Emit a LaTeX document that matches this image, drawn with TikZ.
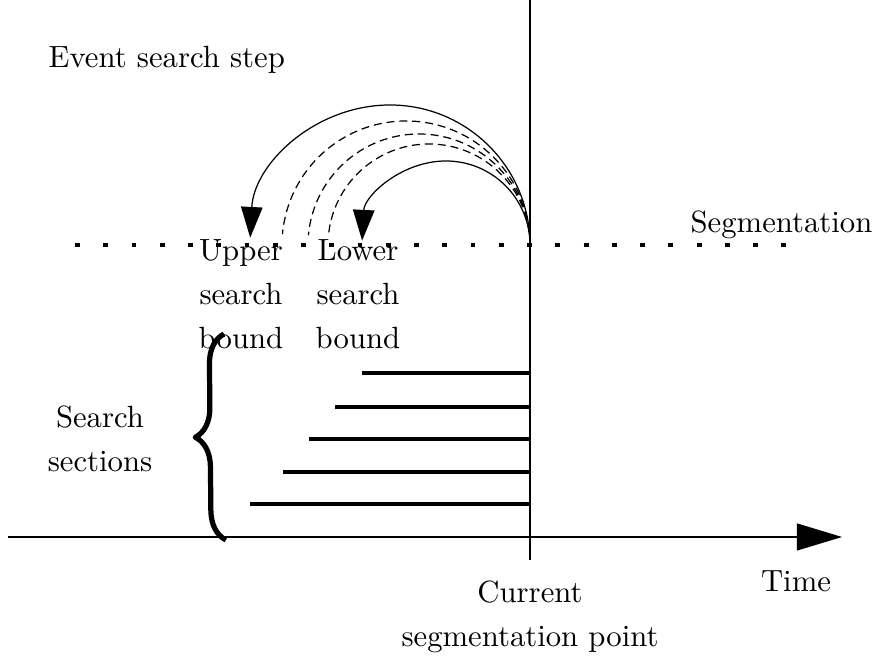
\documentclass[tikz,border=0pt]{standalone}
\usetikzlibrary{arrows.meta,decorations.pathreplacing}
\begin{document}
\begin{tikzpicture}[x=0.01145cm, y=0.01145cm, line join=round,
    txt/.style={font=\fontsize{10}{14.3}\selectfont, align=center, inner sep=0pt, anchor=north},
    bar/.style={line width=1.1pt},
    jump/.style={line width=0.4pt, -{Triangle[length=10pt,width=7pt]}},
    trial/.style={line width=0.4pt, dash pattern=on 2.6pt off 1.6pt}]
  \useasboundingbox (0,0) rectangle (877,-657);
  % labels
  \node[txt, anchor=base west] (ev) at (48,-68) {Event search step};
  \node[txt, anchor=base west] (seg) at (690,-233) {Segmentation};
  \node[txt] (up) at (241,-239) {Upper\\search\\bound};
  \node[txt] (lo) at (358,-239) {Lower\\search\\bound};
  \node[txt] (sec) at (100,-405) {Search\\sections};
  \node[txt, anchor=base] (time) at (796,-592) {Time};
  \node[txt] (curlbl) at (530,-580) {Current\\segmentation point};
  % axes
  \coordinate (v0) at (530,0);
  \coordinate (v1) at (530,-560);
  \coordinate (t0) at (8,-537);
  \coordinate (t1) at (842,-537);
  \draw[line width=0.4pt] (v0) -- (v1);
  \draw[line width=0.4pt, -{Triangle[length=14.7pt,width=8.8pt]}] (t0) -- (t1);
  % segmentation line
  \coordinate (s0) at (75,-245);
  \coordinate (s1) at (792,-245);
  \coordinate (cur) at (530,-245);
  \draw[line width=1.2pt, dash pattern=on 1.6pt off 7.6pt] (s0) -- (s1);
  % search steps
  \draw[jump] (cur) arc[start angle=0, end angle=177, radius=140];
  \draw[trial] (cur) arc[start angle=0, end angle=175, radius=124];
  \draw[trial] (cur) arc[start angle=0, end angle=175, radius=111];
  \draw[trial] (cur) arc[start angle=0, end angle=175, radius=101];
  \draw[jump] (cur) arc[start angle=0, end angle=177, radius=84];
  % sections
  \foreach \l/\y in {362/373, 335/407, 309/439, 283/472, 250/504}
    \draw[bar] (\l,-\y) -- (530,-\y);
  \draw[line width=1.7pt, decorate, decoration={brace, amplitude=0.34cm}]
    (226,-540) -- (224,-334);
\end{tikzpicture}
\end{document}
